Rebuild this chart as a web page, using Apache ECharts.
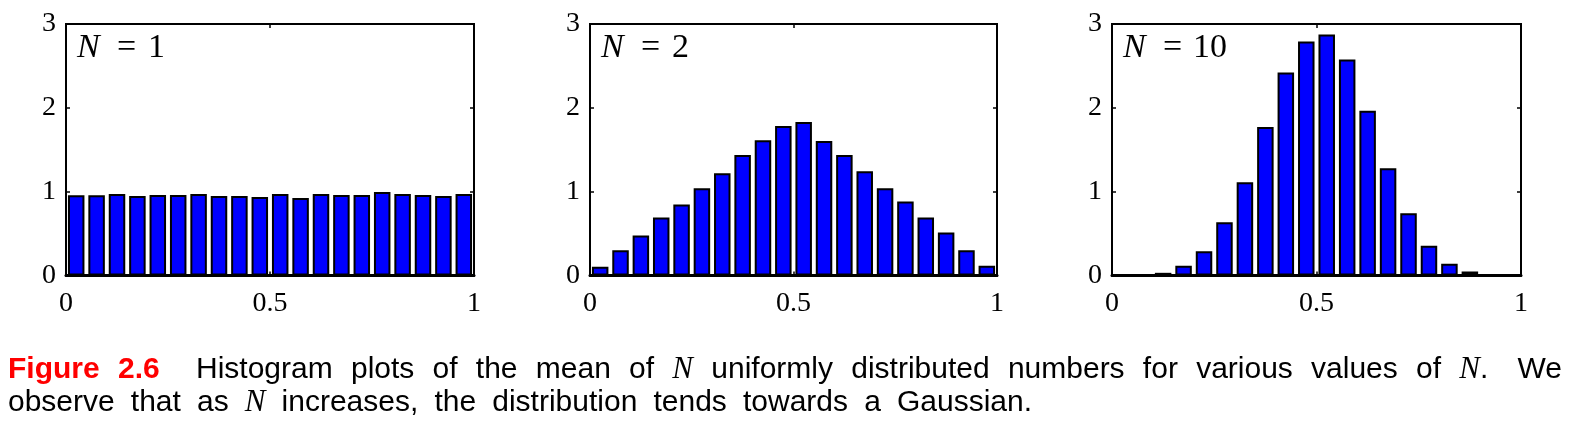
<!DOCTYPE html>
<html><head><meta charset="utf-8">
<script src="https://cdn.jsdelivr.net/npm/echarts@6/dist/echarts.min.js"></script>
<style>html,body{margin:0;padding:0;background:#fff}#c{width:1590px;height:423px}</style>
</head><body><div id="c"></div>
<script>
// ---- data ----
const binCenters = [0.025,0.075,0.125,0.175,0.225,0.275,0.325,0.375,0.425,0.475,
                    0.525,0.575,0.625,0.675,0.725,0.775,0.825,0.875,0.925,0.975];
const valuesN1  = [0.956,0.956,0.972,0.948,0.96,0.96,0.972,0.948,0.948,0.936,
                   0.972,0.924,0.972,0.96,0.96,0.996,0.972,0.96,0.948,0.972];
const valuesN2  = [0.104,0.30,0.476,0.692,0.848,1.04,1.22,1.436,1.612,1.784,
                   1.832,1.604,1.436,1.244,1.04,0.884,0.692,0.512,0.30,0.116];
const valuesN10 = [0,0,0.032,0.116,0.288,0.636,1.112,1.772,2.42,2.792,
                   2.876,2.576,1.964,1.28,0.744,0.356,0.14,0.048,0,0];
const panelN = ['1','2','10'];
const xTickLabels = ['0','0.5','1'];
const yTickLabels = ['0','1','2','3'];

// ---- layout ----
const panels = [{left:66,width:408},{left:590,width:407},{left:1112,width:409}];
const TOP = 24, H = 251.5;
const allValues = [valuesN1, valuesN2, valuesN10];
const SERIF = '"Liberation Serif", "Times New Roman", serif';
const SANS = '"Liberation Sans", Arial, Helvetica, sans-serif';

const grids = [], xAxes = [], yAxes = [], series = [], graphics = [];
panels.forEach((p, i) => {
  grids.push({left:p.left, top:TOP, width:p.width, height:H, show:true,
    borderColor:'#000', borderWidth:2, backgroundColor:'transparent'});
  const tick = {show:true, inside:true, length:4, lineStyle:{color:'#000', width:1.5}};
  xAxes.push({gridIndex:i, type:'value', min:0, max:1, interval:0.5, position:'bottom',
    axisLine:{show:true, onZero:false, lineStyle:{color:'#000', width:3}},
    axisTick:tick, splitLine:{show:false},
    axisLabel:{color:'#000', fontFamily:SERIF, fontSize:28, margin:14,
      formatter:v => { const s = String(v); return xTickLabels.indexOf(s) >= 0 ? s : ''; }}});
  xAxes.push({gridIndex:i, type:'value', min:0, max:1, interval:0.5, position:'top',
    axisLine:{show:true, onZero:false, lineStyle:{color:'#000', width:2}},
    axisTick:tick, splitLine:{show:false}, axisLabel:{show:false}});
  yAxes.push({gridIndex:i, type:'value', min:0, max:3, interval:1, position:'left',
    axisLine:{show:true, onZero:false, lineStyle:{color:'#000', width:2}},
    axisTick:tick, splitLine:{show:false},
    axisLabel:{color:'#000', fontFamily:SERIF, fontSize:28, margin:10,
      formatter:v => { const s = String(v); return yTickLabels.indexOf(s) >= 0 ? s : ''; }}});
  yAxes.push({gridIndex:i, type:'value', min:0, max:3, interval:1, position:'right',
    axisLine:{show:true, onZero:false, lineStyle:{color:'#000', width:2}},
    axisTick:tick, splitLine:{show:false}, axisLabel:{show:false}});
  series.push({type:'bar', xAxisIndex:2*i, yAxisIndex:2*i, barWidth:16.5, silent:true,
    itemStyle:{color:'#0000ff', borderColor:'#000', borderWidth:2},
    data: binCenters.map((c, j) => [c, allValues[i][j]])});
  // panel annotation "N = k"
  const ty = 48.5;
  graphics.push({type:'text', x:p.left+11, y:ty, silent:true,
    style:{text:'N', fill:'#000', fontFamily:SERIF, fontStyle:'italic', fontSize:34,
      align:'left', verticalAlign:'middle', textAlign:'left', textVerticalAlign:'middle'}});
  graphics.push({type:'text', x:p.left+51, y:ty, silent:true,
    style:{text:'=', fill:'#000', fontFamily:SERIF, fontSize:34,
      align:'left', verticalAlign:'middle', textAlign:'left', textVerticalAlign:'middle'}});
  graphics.push({type:'text', x:p.left+(panelN[i].length > 1 ? 81 : 82), y:ty, silent:true,
    style:{text:panelN[i], fill:'#000', fontFamily:SERIF, fontSize:34,
      align:'left', verticalAlign:'middle', textAlign:'left', textVerticalAlign:'middle'}});
});

// ---- caption (justified words) ----
const ctx = document.createElement('canvas').getContext('2d');
const FS = 30, MFS = 31;
function fontOf(piece){
  if (piece.math) return 'italic ' + MFS + 'px ' + SERIF;
  if (piece.bold) return 'bold ' + FS + 'px ' + SANS;
  return FS + 'px ' + SANS;
}
function pieceW(piece){ ctx.font = fontOf(piece); return ctx.measureText(piece.t).width; }
function wordW(word){ return word.reduce((s, p) => s + pieceW(p), 0); }
function addPiece(piece, x, y){
  graphics.push({type:'text', x:x, y:y, silent:true,
    style:{text:piece.t, fill: piece.red ? '#ff0000' : '#000',
      fontFamily: piece.math ? SERIF : SANS, fontSize: piece.math ? MFS : FS,
      fontStyle: piece.math ? 'italic' : 'normal', fontWeight: piece.bold ? 'bold' : 'normal',
      align:'left', verticalAlign:'middle', textAlign:'left', textVerticalAlign:'middle'}});
}
function layoutLine(words, x0, x1, y, gapWeights){
  const total = words.reduce((s, w) => s + wordW(w), 0);
  const wsum = gapWeights.reduce((s, g) => s + g, 0);
  const unit = (x1 - x0 - total) / wsum;
  let x = x0;
  words.forEach((w, k) => {
    w.forEach(p => { addPiece(p, x, y); x += pieceW(p); });
    if (k < gapWeights.length) x += unit * gapWeights[k];
  });
}
const L1 = 369.6, L2 = 402.6;
addPiece({t:'Figure', bold:true, red:true}, 8, L1);
addPiece({t:'2.6', bold:true, red:true}, 118, L1);
const line1 = ['Histogram','plots','of','the','mean','of',[{t:'N',math:true}],'uniformly',
  'distributed','numbers','for','various','values','of',[{t:'N',math:true},{t:'.'}],'We']
  .map(w => Array.isArray(w) ? w : [{t:w}]);
const g1 = line1.slice(0, -1).map((w, k) => k === line1.length - 2 ? 1.6 : 1);
layoutLine(line1, 196, 1562, L1, g1);
const line2 = ['observe','that','as',[{t:'N',math:true}],'increases,','the','distribution',
  'tends','towards','a','Gaussian.'].map(w => Array.isArray(w) ? w : [{t:w}]);
layoutLine(line2, 8, 1032, L2, line2.slice(0, -1).map(() => 1));

const chart = echarts.init(document.getElementById('c'), null, {renderer:'canvas'});
chart.setOption({
  animation:false, backgroundColor:'#fff',
  grid:grids, xAxis:xAxes, yAxis:yAxes, series:series, graphic:graphics
});
</script></body></html>
